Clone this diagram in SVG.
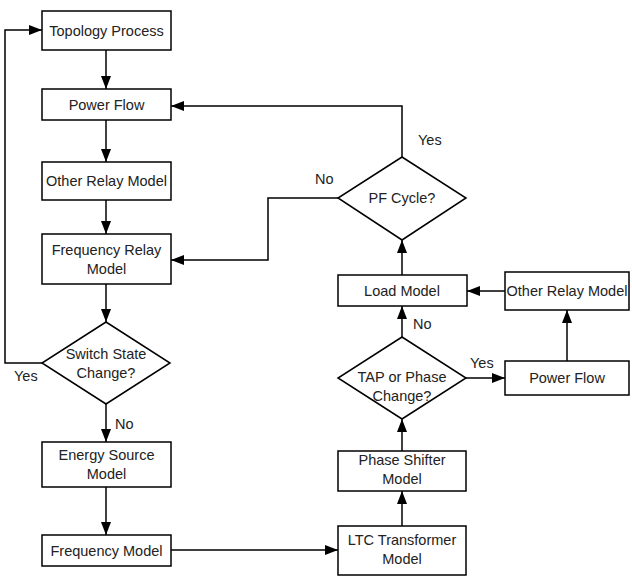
<svg xmlns="http://www.w3.org/2000/svg" width="632" height="576" viewBox="0 0 632 576">
<defs>
<marker id="ah" viewBox="0 0 13 10" refX="13" refY="5" markerWidth="13" markerHeight="10" markerUnits="userSpaceOnUse" orient="auto">
<path d="M0,0 L13,5 L0,10 Z" fill="#000"/>
</marker>
<style>
.n{fill:#fff;stroke:#000;stroke-width:1.5}
.t{font-family:"Liberation Sans",Arial,sans-serif;font-size:14.5px;fill:#222;text-anchor:middle}
.l{font-family:"Liberation Sans",Arial,sans-serif;font-size:14.5px;fill:#222}
.c{fill:none;stroke:#000;stroke-width:1.5;marker-end:url(#ah)}
</style>
</defs>
<rect width="632" height="576" fill="#fff"/>
<g id="connectors">
<path class="c" d="M106,50 L106,89"/>
<path class="c" d="M106,120 L106,162"/>
<path class="c" d="M106,200 L106,234"/>
<path class="c" d="M106,284 L106,322"/>
<path class="c" d="M42,363 L5,363 L5,30 L42,30"/>
<path class="c" d="M106,404 L106,442"/>
<path class="c" d="M106,487 L106,535"/>
<path class="c" d="M171,550 L338,550"/>
<path class="c" d="M402,526 L402,491"/>
<path class="c" d="M402,451 L402,419"/>
<path class="c" d="M402,337 L402,306"/>
<path class="c" d="M466,378 L505,378"/>
<path class="c" d="M567,361 L567,310"/>
<path class="c" d="M505,291 L467,291"/>
<path class="c" d="M402,275 L402,240"/>
<path class="c" d="M402,157 L402,106 L171,106"/>
<path class="c" d="M338,198 L268,198 L268,260 L171,260"/>
<text class="l" x="14" y="381">Yes</text>
<text class="l" x="115" y="429">No</text>
<text class="l" x="413" y="329">No</text>
<text class="l" x="470" y="368">Yes</text>
<text class="l" x="315" y="184">No</text>
<text class="l" x="418" y="145">Yes</text>
</g>
<g id="topology"><rect class="n" x="42" y="11" width="129" height="39"/><text class="t" x="106.5" y="35.5">Topology Process</text></g>
<g id="powerflow1"><rect class="n" x="42" y="89" width="129" height="31"/><text class="t" x="106.5" y="110">Power Flow</text></g>
<g id="otherrelay1"><rect class="n" x="42" y="162" width="129" height="38"/><text class="t" x="106.5" y="186">Other Relay Model</text></g>
<g id="freqrelay"><rect class="n" x="42" y="234" width="129" height="50"/><text class="t" x="106.5" y="255">Frequency Relay</text><text class="t" x="106.5" y="274">Model</text></g>
<g id="switch"><path class="n" d="M106,322 L170,363 L106,404 L42,363 Z"/><text class="t" x="106" y="359">Switch State</text><text class="t" x="106" y="378">Change?</text></g>
<g id="energy"><rect class="n" x="42" y="442" width="129" height="45"/><text class="t" x="106.5" y="460">Energy Source</text><text class="t" x="106.5" y="479">Model</text></g>
<g id="freqmodel"><rect class="n" x="42" y="535" width="129" height="31"/><text class="t" x="106.5" y="555.5">Frequency Model</text></g>
<g id="ltc"><rect class="n" x="338" y="526" width="128" height="49"/><text class="t" x="402" y="545">LTC Transformer</text><text class="t" x="402" y="564">Model</text></g>
<g id="phaseshifter"><rect class="n" x="338" y="451" width="128" height="40"/><text class="t" x="402" y="465">Phase Shifter</text><text class="t" x="402" y="484">Model</text></g>
<g id="tap"><path class="n" d="M402,337 L466,378 L402,419 L338,378 Z"/><text class="t" x="402" y="382">TAP or Phase</text><text class="t" x="402" y="401">Change?</text></g>
<g id="load"><rect class="n" x="338" y="275" width="129" height="31"/><text class="t" x="402" y="295.5">Load Model</text></g>
<g id="otherrelay2"><rect class="n" x="505" y="272" width="124" height="38"/><text class="t" x="567" y="296">Other Relay Model</text></g>
<g id="powerflow2"><rect class="n" x="505" y="361" width="124" height="34"/><text class="t" x="567" y="383">Power Flow</text></g>
<g id="pfcycle"><path class="n" d="M402,157 L466,198 L402,240 L338,198 Z"/><text class="t" x="402" y="203">PF Cycle?</text></g>
</svg>
